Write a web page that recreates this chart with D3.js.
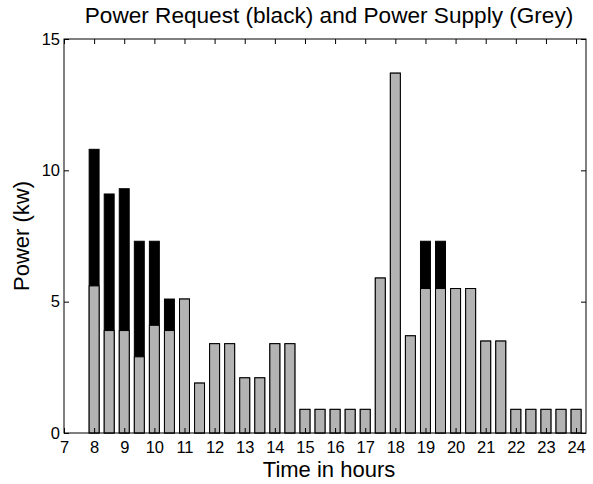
<!DOCTYPE html>
<html>
<head>
<meta charset="utf-8">
<script src="https://cdn.jsdelivr.net/npm/d3@7"></script>
<style>
  body { margin: 0; background: #fff; }
  svg text { font-family: "Liberation Sans", Arial, sans-serif; fill: #000; }
</style>
</head>
<body>
<div id="chart"></div>
<script>
// half-hour slots, 8:00 to 24:00
const hours = [8, 8.5, 9, 9.5, 10, 10.5, 11, 11.5, 12, 12.5, 13, 13.5, 14, 14.5, 15, 15.5, 16,
  16.5, 17, 17.5, 18, 18.5, 19, 19.5, 20, 20.5, 21, 21.5, 22, 22.5, 23, 23.5, 24];
const request = [10.8, 9.1, 9.3, 7.3, 7.3, 5.1, 5.1, 1.9, 3.4, 3.4, 2.1, 2.1, 3.4, 3.4, 0.9, 0.9, 0.9,
  0.9, 0.9, 5.9, 13.7, 3.7, 7.3, 7.3, 5.5, 5.5, 3.5, 3.5, 0.9, 0.9, 0.9, 0.9, 0.9];
const supply = [5.6, 3.9, 3.9, 2.9, 4.1, 3.9, 5.1, 1.9, 3.4, 3.4, 2.1, 2.1, 3.4, 3.4, 0.9, 0.9, 0.9,
  0.9, 0.9, 5.9, 13.7, 3.7, 5.5, 5.5, 5.5, 5.5, 3.5, 3.5, 0.9, 0.9, 0.9, 0.9, 0.9];
const xTicks = d3.range(7, 25);
const yTicks = [0, 5, 10, 15];

const width = 593, height = 484;
const margin = { left: 64, right: 7, top: 39, bottom: 51 };
const chartWidth = width - margin.left - margin.right;
const chartHeight = height - margin.top - margin.bottom;

const scaleX = d3.scaleLinear().domain([7, 24.33]).range([0, chartWidth]);
const scaleY = d3.scaleLinear().domain([0, 15]).range([chartHeight, 0]);
const barW = scaleX(7.33) - scaleX(7);

const svg = d3.select('#chart').append('svg')
  .attr('width', width)
  .attr('height', height);

const g = svg.append('g')
  .attr('transform', `translate(${margin.left},${margin.top})`);

// request bars (black) behind, supply (grey) in front
g.append('g').selectAll('rect')
  .data(hours)
  .enter()
  .append('rect')
  .attr('x', (d) => scaleX(d) - barW / 2)
  .attr('y', (d, i) => scaleY(request[i]))
  .attr('width', barW)
  .attr('height', (d, i) => chartHeight - scaleY(request[i]))
  .attr('fill', '#000')
  .attr('stroke', '#000')
  .attr('stroke-width', 1);

g.append('g').selectAll('rect')
  .data(hours)
  .enter()
  .append('rect')
  .attr('x', (d) => scaleX(d) - barW / 2)
  .attr('y', (d, i) => scaleY(supply[i]))
  .attr('width', barW)
  .attr('height', (d, i) => chartHeight - scaleY(supply[i]))
  .attr('fill', '#b3b3b3')
  .attr('stroke', '#000')
  .attr('stroke-width', 1);

// axes, ticks pointing inward like matlab
const xAxis = d3.axisBottom(scaleX).tickValues(xTicks).tickSizeInner(-5).tickSizeOuter(0).tickPadding(8);
const xAxisTop = d3.axisTop(scaleX).tickValues(xTicks).tickSizeInner(-5).tickSizeOuter(0).tickFormat('');
const yAxis = d3.axisLeft(scaleY).tickValues(yTicks).tickSizeInner(-5).tickSizeOuter(0).tickPadding(4);
const yAxisRight = d3.axisRight(scaleY).tickValues(yTicks).tickSizeInner(-5).tickSizeOuter(0).tickFormat('');

g.append('g').attr('transform', `translate(0,${chartHeight})`).call(xAxis);
g.append('g').call(xAxisTop);
g.append('g').call(yAxis);
g.append('g').attr('transform', `translate(${chartWidth},0)`).call(yAxisRight);

g.selectAll('.domain').remove();
g.selectAll('.tick line').attr('stroke', '#000');
g.selectAll('.tick text').attr('font-size', 16.5).attr('font-family', '"Liberation Sans", Arial, sans-serif');

g.append('rect')
  .attr('width', chartWidth)
  .attr('height', chartHeight)
  .attr('fill', 'none')
  .attr('stroke', '#000')
  .attr('stroke-width', 1);

const midX = margin.left + chartWidth / 2 + 4;

svg.append('text')
  .attr('x', midX)
  .attr('y', 23)
  .attr('text-anchor', 'middle')
  .attr('font-size', 22.6)
  .text('Power Request (black) and Power Supply (Grey)');

svg.append('text')
  .attr('x', midX)
  .attr('y', 477)
  .attr('text-anchor', 'middle')
  .attr('font-size', 22)
  .text('Time in hours');

svg.append('text')
  .attr('transform', `translate(29,${margin.top + chartHeight / 2}) rotate(-90)`)
  .attr('text-anchor', 'middle')
  .attr('font-size', 22)
  .text('Power (kw)');
</script>
</body>
</html>
